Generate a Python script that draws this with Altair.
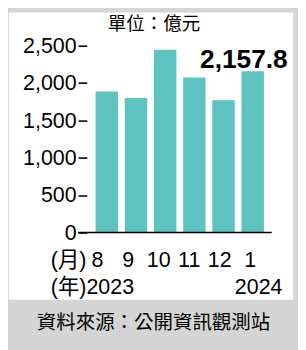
import altair as alt
import pandas as pd

months = ["8", "9", "10", "11", "12", "1"]
values = [1887, 1799, 2446, 2074, 1769, 2157.8]
y_ticks = [0, 500, 1000, 1500, 2000, 2500]
highlight_label = "2,157.8"
unit_title = "單位：億元"
source_note = "資料來源：公開資訊觀測站"
month_prefix = "(月)"
year_start = "(年)2023"
year_end = "2024"

df = pd.DataFrame({"month": months, "value": values})
one = pd.DataFrame({"value": [0]})

W, H = 199, 192
BG = "#d5d5d5"
BAR = "#5ec3c1"
NUM_FONT = "Liberation Sans, Arial, Noto Sans CJK TC, sans-serif"
CJK_FONT = "Noto Sans CJK TC, sans-serif"

x_bar = alt.X("month:N", sort=months,
              scale=alt.Scale(range=[18, 191], paddingInner=0.23, paddingOuter=0),
              axis=None)
y_axis = alt.Axis(values=y_ticks, format=",.0f", title=None, grid=False,
                  domain=False, tickSize=9, tickWidth=1.6,
                  tickColor="black", offset=-9, labelPadding=2,
                  labelFont=NUM_FONT, labelFontSize=22,
                  labelColor="black", zindex=2)
y_enc = alt.Y("value:Q", scale=alt.Scale(domain=[0, 2500], nice=False), axis=y_axis)

panel = alt.Chart(one).mark_rect(color="white").encode(
    x=alt.value(-71), x2=alt.value(221), y=alt.value(-34), y2=alt.value(261))

bars = alt.Chart(df).mark_bar(color=BAR).encode(x=x_bar, y=y_enc)

zero = alt.Chart(one).mark_rule(color="black", strokeWidth=1.6).encode(
    y=y_enc, x=alt.value(0), x2=alt.value(W))

hl = alt.Chart(df.iloc[[-1]].assign(label=highlight_label)).mark_text(
    align="right", baseline="alphabetic", dx=36, dy=-3, font=NUM_FONT,
    fontSize=27, fontWeight="bold", color="black").encode(
    x=x_bar, y=y_enc, text="label:N")

mlab = alt.Chart(df).mark_text(
    baseline="alphabetic", font=NUM_FONT, fontSize=22, color="black").encode(
    x=alt.X("month:N", sort=months,
            scale=alt.Scale(range=[4.3, 192.7], paddingInner=0, paddingOuter=0),
            axis=None),
    y=alt.value(227), text="month:N")


def static_text(txt, x, y, align="left", font=NUM_FONT, size=22, baseline="alphabetic"):
    return alt.Chart(one).mark_text(
        align=align, baseline=baseline, font=font, fontSize=size,
        color="black", text=txt).encode(x=alt.value(x), y=alt.value(y))


texts = [
    static_text(unit_title, 78, -22, align="center", font=CJK_FONT, size=19, baseline="middle"),
    static_text(month_prefix, -28, 227),
    static_text(year_start, -28, 255),
    static_text(year_end, 210, 255, align="right"),
    static_text(source_note, 77.5, 285, align="center", font=CJK_FONT, size=20, baseline="middle"),
]

main = alt.layer(panel, bars, zero, hl)
chart = alt.layer(main, mlab, *texts).resolve_scale(x="independent").properties(
    width=W, height=H,
    autosize=alt.AutoSizeParams(type="none"),
    padding={"left": 72, "top": 34, "right": 27, "bottom": 116},
    background=BG,
).configure_view(stroke=None)

chart.save("out.html", embed_options={"renderer": "svg", "actions": False})
